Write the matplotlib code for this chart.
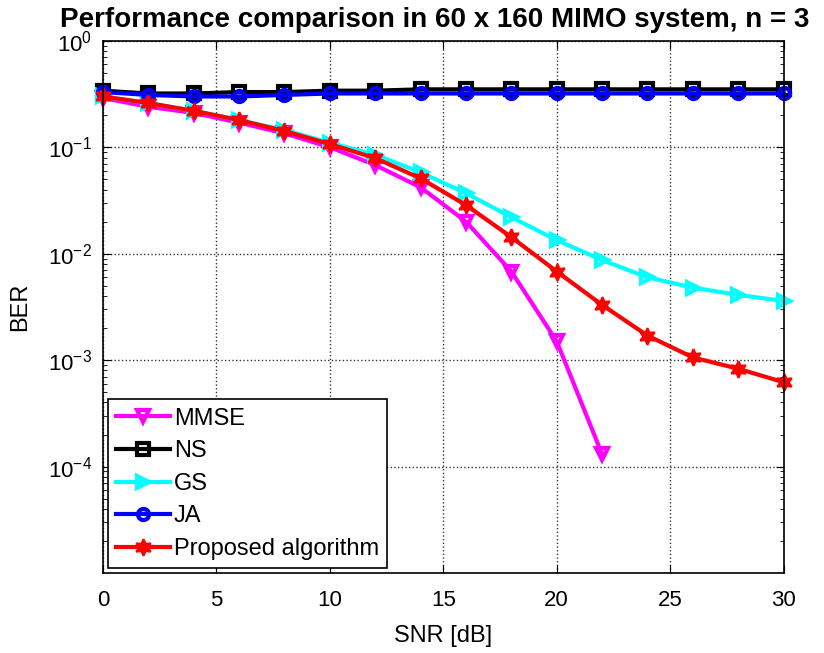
import numpy as np
import matplotlib
matplotlib.use('Agg')
import matplotlib.pyplot as plt
from matplotlib.ticker import LogLocator, NullFormatter

plt.rcParams['font.family'] = ['Liberation Sans', 'DejaVu Sans']

snr = [0, 2, 4, 6, 8, 10, 12, 14, 16, 18, 20, 22, 24, 26, 28, 30]

ber_mmse = [0.29, 0.24, 0.21, 0.17, 0.135, 0.10, 0.068, 0.042, 0.020, 0.0068, 0.0015, 0.00013]
ber_ns = [0.34, 0.32, 0.32, 0.33, 0.33, 0.34, 0.34, 0.35, 0.35, 0.35, 0.35, 0.35, 0.35, 0.35, 0.35, 0.35]
ber_gs = [0.30, 0.26, 0.22, 0.18, 0.145, 0.11, 0.085, 0.058, 0.037, 0.022, 0.0134, 0.0087,
          0.006, 0.0048, 0.0041, 0.0036]
ber_ja = [0.33, 0.31, 0.30, 0.30, 0.31, 0.32, 0.32, 0.32, 0.32, 0.32, 0.32, 0.32, 0.32, 0.32, 0.32, 0.32]
ber_prop = [0.30, 0.26, 0.22, 0.18, 0.142, 0.107, 0.079, 0.051, 0.0286, 0.0143, 0.0068, 0.0033,
            0.0017, 0.00106, 0.00083, 0.00062]

fig = plt.figure(figsize=(8.24, 6.53), dpi=100)
ax = fig.add_axes([0.125, 0.1225, 0.826, 0.815])

lw = 3
style = dict(lw=lw, ms=8, mew=lw, clip_on=False)
ax.semilogy(snr[:len(ber_mmse)], ber_mmse, color='magenta', marker='v', mfc='none', label='MMSE', **style)
ax.semilogy(snr, ber_ns, color='black', marker='s', mfc='none', label='NS', **style)
ax.semilogy(snr, ber_gs, color='cyan', marker='>', mfc='none', label='GS', **style)
ax.semilogy(snr, ber_ja, color='blue', marker='o', mfc='none', label='JA', **style)
ax.semilogy(snr, ber_prop, color='red', marker=(6, 1, 0), lw=lw, ms=12, mfc='red', mew=1.5,
            clip_on=False, label='Proposed algorithm')

ax.set_xlim(0, 30)
ax.set_ylim(1e-5, 1)
ax.set_xticks([0, 5, 10, 15, 20, 25, 30])
ax.set_yticks([1e-4, 1e-3, 1e-2, 1e-1, 1])
ax.yaxis.set_minor_locator(LogLocator(base=10, subs=np.arange(2, 10)))
ax.yaxis.set_minor_formatter(NullFormatter())
ax.tick_params(which='both', direction='in', top=True, right=True, labelsize=16)
ax.tick_params(axis='x', pad=12)
ax.tick_params(axis='y', pad=8)
ax.tick_params(which='major', length=6)
ax.tick_params(which='minor', length=3)
ax.grid(True, which='major', linestyle=':', color='#333333', linewidth=1)
for s in ax.spines.values():
    s.set_linewidth(1.2)

ax.set_xlabel('SNR [dB]', fontsize=17, labelpad=10)
ax.set_ylabel('BER', fontsize=17, labelpad=12)
ax.set_title('Performance comparison in 60 x 160 MIMO system, n = 3', fontsize=20,
             fontweight='bold', pad=10, x=0.4875)

leg = ax.legend(loc='lower left', fontsize=17, fancybox=False, edgecolor='black',
                framealpha=1, numpoints=1, handlelength=2.3, borderaxespad=0.2,
                labelspacing=0.45, handletextpad=0.15, borderpad=0.35)
leg.get_frame().set_linewidth(1.2)

fig.savefig('out.png', dpi=100)
